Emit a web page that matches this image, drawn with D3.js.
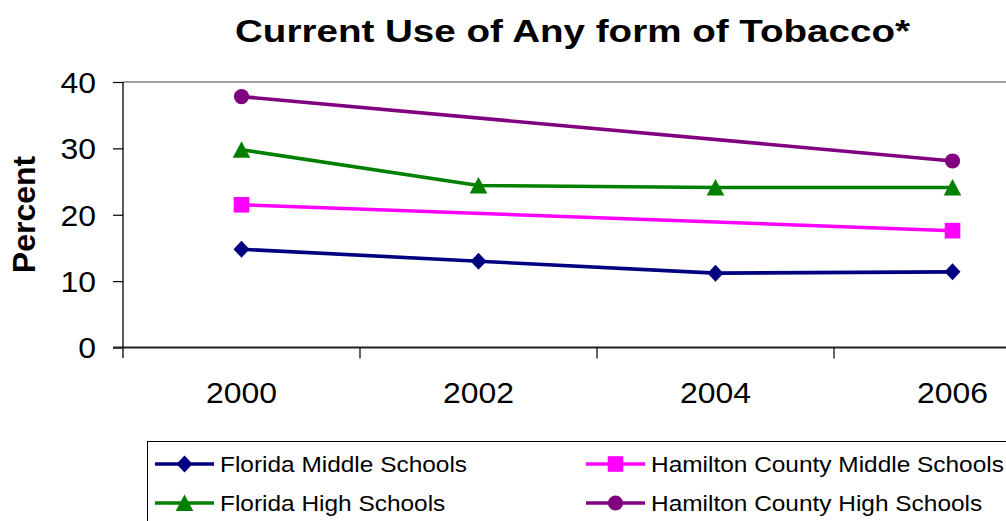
<!DOCTYPE html>
<html>
<head>
<meta charset="utf-8">
<script src="https://cdn.jsdelivr.net/npm/d3@7"></script>
<style>
  html, body { margin: 0; padding: 0; background: #fff; }
  svg { display: block; overflow: hidden; }
  text { font-family: "Liberation Sans", Arial, sans-serif; fill: #000; }
</style>
</head>
<body>
<svg id="chart" width="1006" height="521"></svg>
<script>
// ---- data ----
const years = ["2000", "2002", "2004", "2006"];
const floridaMiddle = [14.8, 13.0, 11.2, 11.4];
const hamiltonMiddle = [21.5, null, null, 17.6];
const floridaHigh = [29.8, 24.4, 24.1, 24.1];
const hamiltonHigh = [37.8, null, null, 28.1];
const seriesNames = ["Florida Middle Schools", "Hamilton County Middle Schools", "Florida High Schools", "Hamilton County High Schools"];
const yTicks = [0, 10, 20, 30, 40];
const titleText = "Current Use of Any form of Tobacco*";
const yLabel = "Percent";

const series = [
  { name: seriesNames[0], values: floridaMiddle, color: "#000080", shape: "diamond" },
  { name: seriesNames[1], values: hamiltonMiddle, color: "#FF00FF", shape: "square" },
  { name: seriesNames[2], values: floridaHigh, color: "#008000", shape: "triangle" },
  { name: seriesNames[3], values: hamiltonHigh, color: "#800080", shape: "circle" }
];

const svg = d3.select("#chart");

function stretch(sel, factor) {
  sel.each(function () {
    const n = this.getComputedTextLength();
    d3.select(this).attr("textLength", n * factor).attr("lengthAdjust", "spacingAndGlyphs");
  });
}

// ---- scales ----
const x = d3.scaleBand().domain(years).range([123, 123 + 4 * 237]).paddingInner(0).paddingOuter(0);
const y = d3.scaleLinear().domain([0, 40]).range([347.5, 82]);

// ---- plot area top border ----
svg.append("line")
  .attr("x1", 123).attr("x2", 1010)
  .attr("y1", y(40)).attr("y2", y(40))
  .attr("stroke", "#808080").attr("stroke-width", 1.6);

// ---- y axis ----
const yAxis = svg.append("g").attr("transform", "translate(123,0)")
  .call(d3.axisLeft(y).tickValues(yTicks).tickSize(10).tickPadding(17).tickFormat(d3.format("d")));
yAxis.select(".domain").remove();
yAxis.selectAll(".tick line").attr("stroke", "#000").attr("stroke-width", 1.2);
yAxis.selectAll(".tick text")
  .style("font-family", "'Liberation Sans', Arial, sans-serif")
  .style("font-size", "29px").attr("dy", "0.36em").attr("fill", "#000");
stretch(yAxis.selectAll(".tick text"), 1.1);
svg.append("line")
  .attr("x1", 123).attr("x2", 123)
  .attr("y1", y(40)).attr("y2", 358)
  .attr("stroke", "#000").attr("stroke-width", 1.3);

// ---- x axis ----
const xAxis = svg.append("g").attr("transform", "translate(0," + y(0) + ")")
  .call(d3.axisBottom(x).tickSize(0).tickPadding(35));
xAxis.select(".domain").remove();
xAxis.selectAll(".tick text")
  .style("font-family", "'Liberation Sans', Arial, sans-serif")
  .style("font-size", "29px").attr("fill", "#000");
stretch(xAxis.selectAll(".tick text"), 1.1);
svg.append("line")
  .attr("x1", 113).attr("x2", 1010)
  .attr("y1", y(0)).attr("y2", y(0))
  .attr("stroke", "#222").attr("stroke-width", 2);
svg.append("g").selectAll("line").data(years.slice(1).concat(["_end"]))
  .join("line")
  .attr("x1", d => d === "_end" ? x.range()[1] : x(d))
  .attr("x2", d => d === "_end" ? x.range()[1] : x(d))
  .attr("y1", y(0)).attr("y2", y(0) + 11)
  .attr("stroke", "#000").attr("stroke-width", 1.2);

// ---- markers ----
function markerPath(shape) {
  switch (shape) {
    case "diamond": return "M0,-8.5L8,0L0,8.5L-8,0Z";
    case "square": return "M-7.8,-7.8H7.8V7.8H-7.8Z";
    case "triangle": return "M0,-8.5L8.8,8L-8.8,8Z";
    default: return d3.symbol().type(d3.symbolCircle).size(Math.PI * 7.6 * 7.6)();
  }
}

const cx = d => x(d) + x.bandwidth() / 2;

// ---- lines ----
const line = d3.line().x(d => cx(d.year)).y(d => y(d.v));
series.forEach(s => {
  const pts = years.map((yr, i) => ({ year: yr, v: s.values[i] })).filter(p => p.v !== null);
  const g = svg.append("g");
  g.append("path").datum(pts)
    .attr("d", line).attr("fill", "none")
    .attr("stroke", s.color).attr("stroke-width", 3.6).attr("stroke-linejoin", "round");
  g.selectAll("path.m").data(pts).join("path").attr("class", "m")
    .attr("transform", p => `translate(${cx(p.year)},${y(p.v)})`)
    .attr("d", markerPath(s.shape)).attr("fill", s.color);
});

// ---- title ----
svg.append("text")
  .attr("x", 235).attr("y", 42)
  .style("font-size", "32px").style("font-weight", "bold")
  .attr("textLength", 675).attr("lengthAdjust", "spacingAndGlyphs")
  .text(titleText);

// ---- y label ----
svg.append("text")
  .attr("transform", "translate(35,214.5) rotate(-90)")
  .attr("text-anchor", "middle")
  .style("font-size", "32px").style("font-weight", "bold")
  .text(yLabel);

// ---- legend ----
svg.append("rect")
  .attr("x", 147.5).attr("y", 441.5).attr("width", 900).attr("height", 120)
  .attr("fill", "none").attr("stroke", "#000").attr("stroke-width", 1);

const legendPos = [
  { lx: 155, ly: 464 }, { lx: 586, ly: 464 },
  { lx: 155, ly: 503 }, { lx: 586, ly: 503 }
];
series.forEach((s, i) => {
  const p = legendPos[i];
  const g = svg.append("g");
  g.append("line").attr("x1", p.lx).attr("x2", p.lx + 59)
    .attr("y1", p.ly).attr("y2", p.ly)
    .attr("stroke", s.color).attr("stroke-width", 3.6);
  g.append("path").attr("transform", `translate(${p.lx + 29.5},${p.ly})`)
    .attr("d", markerPath(s.shape)).attr("fill", s.color);
  const t = g.append("text").attr("x", p.lx + 65).attr("y", p.ly + 8)
    .style("font-size", "22px").text(s.name);
  stretch(t, 1.11);
});
</script>
</body>
</html>
